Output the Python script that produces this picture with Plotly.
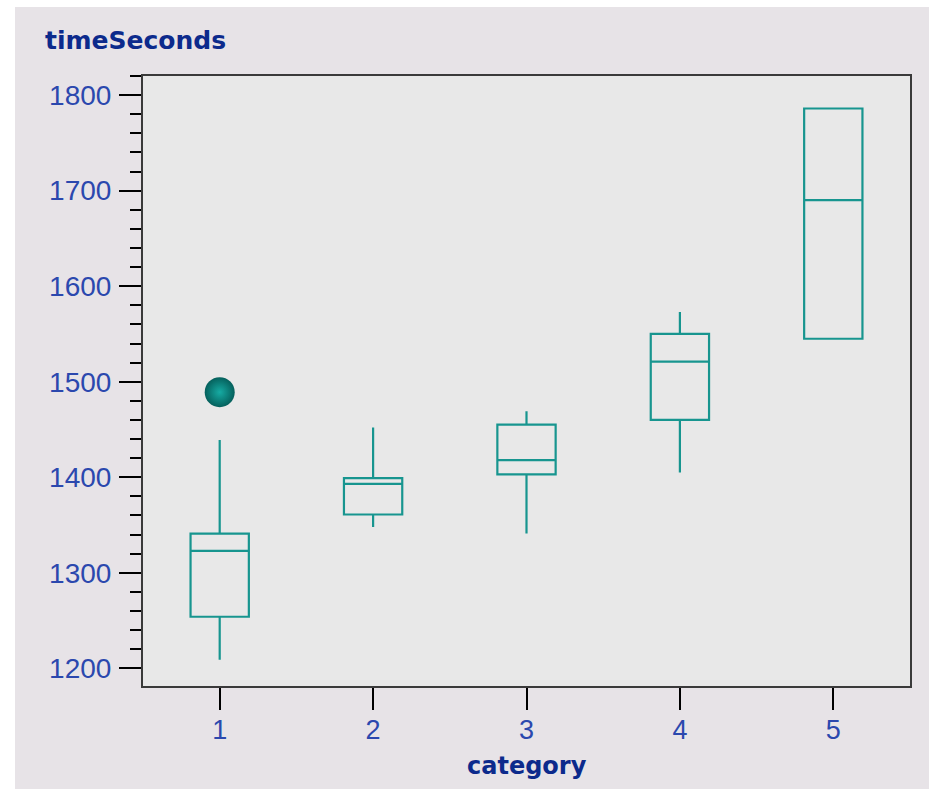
import plotly.graph_objects as go

# Data
categories = [1, 2, 3, 4, 5]
q1_vals = [1254, 1361, 1403, 1460, 1545]
median_vals = [1323, 1393, 1418, 1521, 1690]
q3_vals = [1341, 1399, 1455, 1550, 1786]
lower_whisker = [1209, 1348, 1341, 1405, 1545]
upper_whisker = [1439, 1452, 1469, 1573, 1786]
outlier_x = [1]
outlier_y = [1489]
y_ticks = [1200, 1300, 1400, 1500, 1600, 1700, 1800]

TEAL = "#17958F"
LABEL_BLUE = "#2B48AE"
TITLE_BLUE = "#0C2A8C"
PAPER = "#E7E3E7"
PLOT_BG = "#E8E8E8"

fig = go.Figure()
fig.add_trace(go.Box(
    x=categories,
    q1=q1_vals,
    median=median_vals,
    q3=q3_vals,
    lowerfence=lower_whisker,
    upperfence=upper_whisker,
    boxpoints=False,
    width=0.38,
    whiskerwidth=0,
    fillcolor="rgba(0,0,0,0)",
    line=dict(color=TEAL, width=2.2),
    showlegend=False,
    hoverinfo="skip",
))
fig.add_trace(go.Scatter(
    x=outlier_x, y=outlier_y, mode="markers",
    marker=dict(size=30, color="#05605C",
                gradient=dict(type="radial", color="#16ABA3"),
                line=dict(width=0)),
    showlegend=False,
))

# body margin is removed below, so figure coordinates == screen coordinates
W, H = 929, 789
L, R, T, B = 143, 910, 76, 686
pw, ph = R - L, B - T

def px_x(p):
    return (p - L) / pw

def px_y(p):
    return (B - p) / ph

fig.update_layout(
    width=W, height=H,
    margin=dict(l=L, r=W - R, t=T, b=H - B, pad=0),
    paper_bgcolor=PAPER,
    plot_bgcolor=PLOT_BG,
    font=dict(family="Liberation Sans, Arial, sans-serif", color=LABEL_BLUE),
    xaxis=dict(
        range=[0.5, 5.5], tickvals=categories, ticktext=[str(c) for c in categories],
        ticks="outside", ticklen=22, tickwidth=2, tickcolor="black",
        showgrid=False, zeroline=False,
        showline=True, linecolor="#3a3a3a", linewidth=2, mirror=True,
        tickfont=dict(size=27, color=LABEL_BLUE),
        ticklabelstandoff=-3,
    ),
    yaxis=dict(
        range=[1181.5, 1820], tickvals=y_ticks,
        ticks="outside", ticklen=22, tickwidth=2, tickcolor="black",
        minor=dict(ticks="outside", ticklen=11, tickwidth=2, tickcolor="black", dtick=20, showgrid=False),
        showgrid=False, zeroline=False,
        showline=True, linecolor="#3a3a3a", linewidth=2, mirror=True,
        tickfont=dict(size=28, color=LABEL_BLUE),
        ticklabelstandoff=2,
    ),
    annotations=[
        dict(text="<b>timeSeconds</b>", xref="paper", yref="paper",
             x=px_x(43), y=px_y(40), xanchor="left", yanchor="middle",
             showarrow=False,
             font=dict(family="DejaVu Sans, Verdana, sans-serif", size=25, color=TITLE_BLUE)),
        dict(text="<b>category</b>", xref="paper", yref="paper",
             x=0.5, y=px_y(766), xanchor="center", yanchor="middle",
             showarrow=False,
             font=dict(family="DejaVu Sans, Verdana, sans-serif", size=24, color=TITLE_BLUE)),
    ],
    shapes=[
        dict(type="rect", xref="paper", yref="paper",
             x0=px_x(0), x1=px_x(15), y0=px_y(H), y1=px_y(0),
             fillcolor="white", line=dict(width=0), layer="above"),
        dict(type="rect", xref="paper", yref="paper",
             x0=px_x(0), x1=px_x(W), y0=px_y(7), y1=px_y(0),
             fillcolor="white", line=dict(width=0), layer="above"),
    ],
)

fig.write_html(
    "out.html",
    config={"displayModeBar": False},
    post_script="document.body.style.margin='0px'; document.body.style.overflow='hidden';",
)
